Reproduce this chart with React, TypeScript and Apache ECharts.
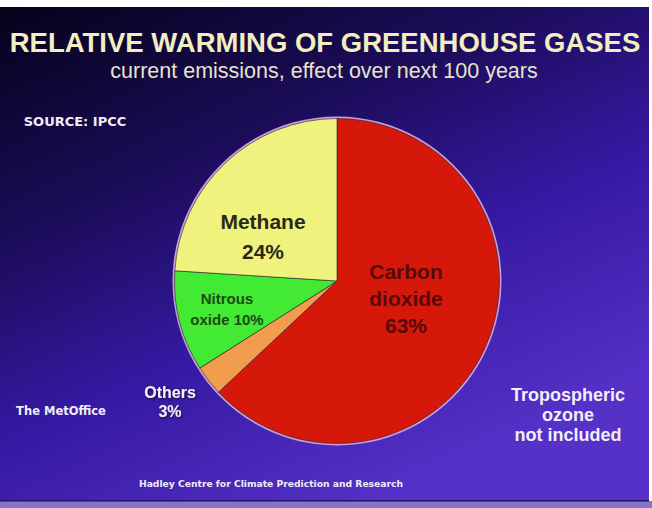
import React, { useEffect, useRef } from "react";
import * as echarts from "echarts";

// Shares of warming (percent), in clockwise order from 12 o'clock
const gasNames = ["Carbon\ndioxide", "Others", "Nitrous\noxide", "Methane"];
const gasShares = [63, 3, 10, 24];
const gasColors = ["#d5180a", "#f29c4e", "#42ea34", "#eff27c"];

const titleText = "RELATIVE WARMING OF GREENHOUSE GASES";
const subtitleText = "current emissions, effect over next 100 years";
const sourceText = "SOURCE: IPCC";
const officeText = "The MetOffice";
const noteText = "Tropospheric\nozone\nnot included";
const footerText = "Hadley Centre for Climate Prediction and Research";

// label styling per slice
const labelColors = ["#5a0808", "#f2f0fa", "#1d4814", "#2a2a14"];
const labelSizes = [21, 16, 15, 21];
const labelLines = [27, 19, 21, 30];
const labelJoin = ["\n", "\n", " ", "\n"];
const labelPos: [number, number][] = [
  [406, 298],
  [170, 402],
  [227, 309],
  [263, 236],
];

const SANS = "'Liberation Sans', Arial, Helvetica, sans-serif";
const WIDE = "'DejaVu Sans', Verdana, sans-serif";
const shadow = { textShadowColor: "rgba(0,0,0,0.75)", textShadowBlur: 3, textShadowOffsetX: 1, textShadowOffsetY: 1 };

export default function App() {
  const ref = useRef<HTMLDivElement>(null);

  useEffect(() => {
    if (!ref.current) return;
    const chart = echarts.init(ref.current, null, { renderer: "svg" });

    const txt = (
      text: string,
      x: number,
      y: number,
      size: number,
      family: string,
      fill: string,
      weight: string = "bold",
      lineHeight?: number
    ) => ({
      type: "text",
      x,
      y,
      z: 100,
      silent: true,
      style: {
        text,
        fill,
        fontSize: size,
        fontWeight: weight,
        fontFamily: family,
        align: "center",
        verticalAlign: "middle",
        lineHeight: lineHeight ?? size * 1.2,
        shadowColor: "rgba(0,0,0,0.7)",
        shadowBlur: 3,
        shadowOffsetX: 1,
        shadowOffsetY: 1,
      },
    });

    chart.setOption({
      animation: false,
      backgroundColor: "#ffffff",
      graphic: [
        {
          type: "rect",
          z: -10,
          silent: true,
          shape: { x: 0, y: 7, width: 649, height: 494 },
          style: {
            fill: new echarts.graphic.LinearGradient(0, 0, 0.6, 1, [
              { offset: 0, color: "#06021a" },
              { offset: 0.35, color: "#1b0c58" },
              { offset: 0.65, color: "#3519a2" },
              { offset: 1, color: "#5631c8" },
            ]),
          },
        },
        {
          type: "rect",
          z: -10,
          silent: true,
          shape: { x: 0, y: 501, width: 652, height: 7 },
          style: { fill: "#8474cc" },
        },
        {
          type: "rect",
          z: -9,
          silent: true,
          shape: { x: 0, y: 500, width: 649, height: 1.5 },
          style: { fill: "#231060" },
        },
        txt(titleText, 325, 42, 27.5, SANS, "#f1eec2"),
        txt(subtitleText, 324, 71, 21.5, SANS, "#e6e3cc", "normal"),
        txt(sourceText, 75, 121, 13, WIDE, "#eeeef6"),
        txt(officeText, 61, 411, 11.5, WIDE, "#eeeef6"),
        txt(noteText, 568, 415, 18, SANS, "#f0eef8", "bold", 20),
        txt(footerText, 271, 483, 9.2, WIDE, "#eeeef6"),
      ],
      series: [
        {
          type: "pie",
          silent: true,
          center: [337, 281],
          radius: [162, 164.5],
          startAngle: 90,
          z: 1,
          label: { show: false },
          labelLine: { show: false },
          itemStyle: { color: "#c99ed6" },
          data: [{ value: 1, name: "rim" }],
        },
        {
          type: "pie",
          silent: true,
          center: [337, 281],
          radius: 162.5,
          startAngle: 90,
          clockwise: true,
          avoidLabelOverlap: false,
          z: 2,
          itemStyle: { borderColor: "rgba(40,20,40,0.55)", borderWidth: 1 },
          labelLine: { show: false },
          label: { show: true, position: "inside", fontWeight: "bold", fontFamily: SANS },
          labelLayout: (p: any) => ({
            x: labelPos[p.dataIndex][0],
            y: labelPos[p.dataIndex][1],
            align: "center",
            verticalAlign: "middle",
          }),
          data: gasShares.map((v, i) => ({
            value: v,
            name: gasNames[i],
            itemStyle: { color: gasColors[i] },
            label: {
              color: labelColors[i],
              fontSize: labelSizes[i],
              fontWeight: "bold",
              lineHeight: labelLines[i],
              formatter: (p: any) => `${p.name}${labelJoin[i]}${p.value}%`,
              ...(i === 1 ? shadow : {}),
            },
          })),
        },
      ],
    });

    return () => chart.dispose();
  }, []);

  return <div ref={ref} style={{ position: "fixed", left: 0, top: 0, width: 652, height: 508 }} />;
}
